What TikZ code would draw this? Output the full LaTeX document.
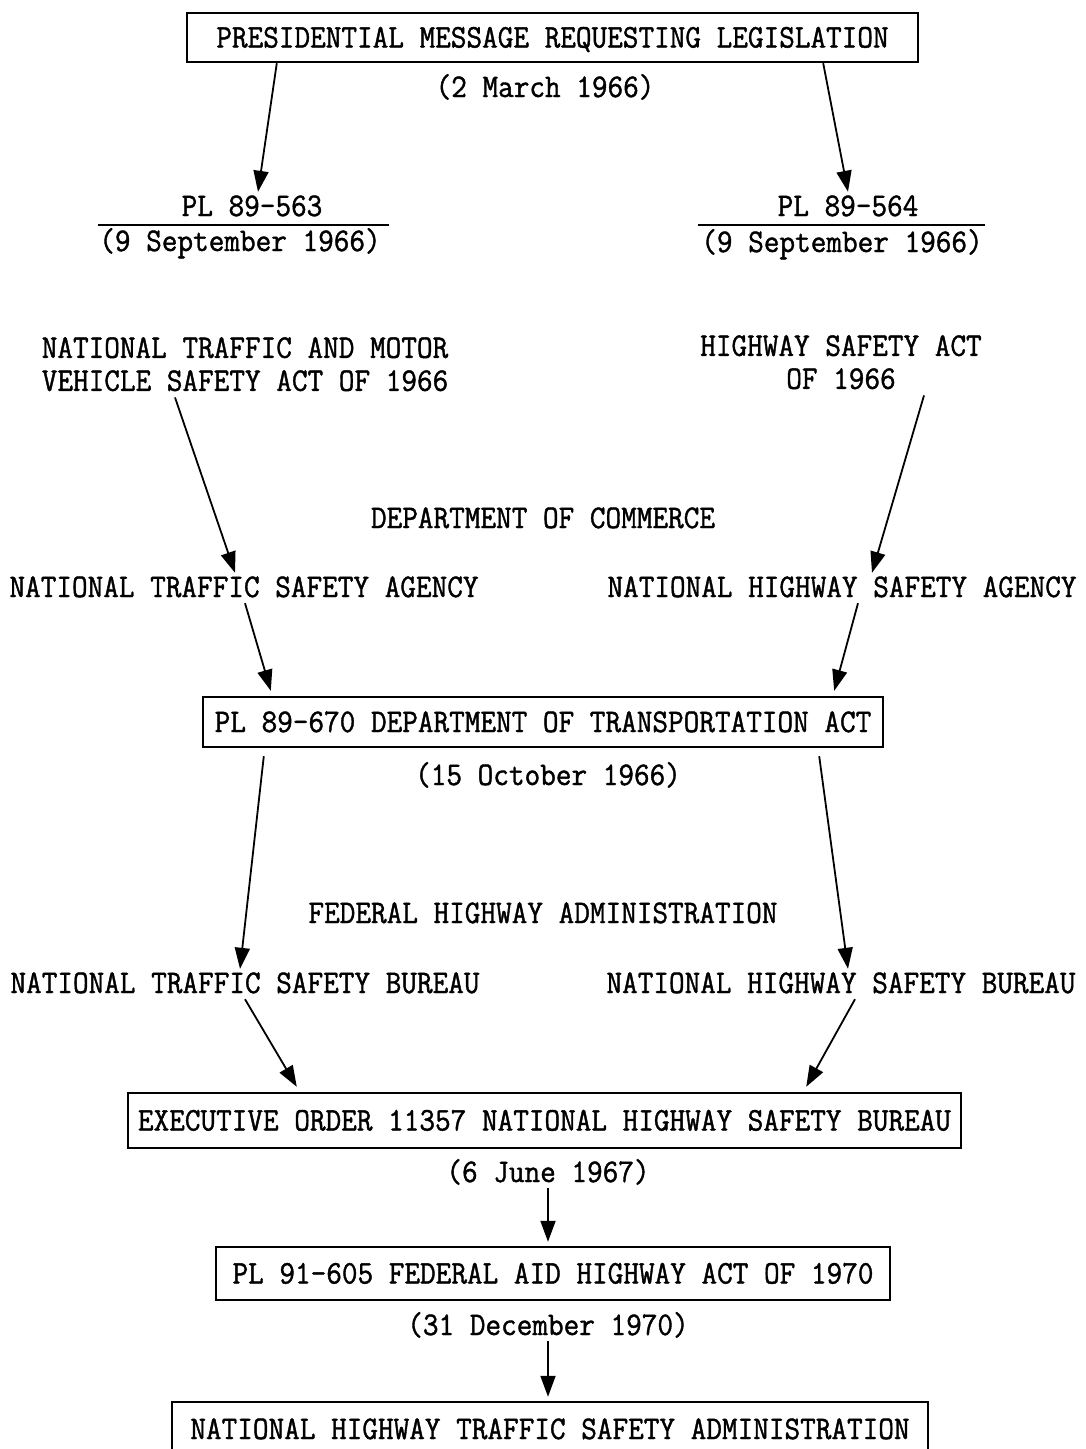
\documentclass[tikz,border=0pt]{standalone}
\usepackage{fontspec}
\newfontfamily\typefont{Latin Modern Mono}[FakeBold=1.2, FakeStretch=0.92]
\usetikzlibrary{arrows.meta}

\begin{document}
\begin{tikzpicture}[x=1pt, y=1pt,
  type node/.style={inner sep=0pt, font=\fontsize{33}{33}\typefont},
  line node/.style={type node, text height=20pt, text depth=0pt},
  box node/.style={line node, draw, line width=2.4pt},
  flow/.style={line width=1.8pt, -{Triangle[length=21pt,width=15pt]}}]
\clip (0,0) rectangle (1086,-1449);
\fill[white] (0,0) rectangle (1086,-1449);
\node[box node, minimum width=731pt, minimum height=49pt] (pres) at (552.5,-37.5) {PRESIDENTIAL MESSAGE REQUESTING LEGISLATION};
\node[line node] (march) at (545,-87) {(2 March 1966)};
\node[line node] (pl563) at (252,-206) {PL 89-563};
\node[line node] (d563) at (240,-241) {(9 September 1966)};
\node[line node] (pl564) at (848,-206) {PL 89-564};
\node[line node] (d564) at (842,-242) {(9 September 1966)};
\node[type node, align=center, anchor=north] (act1) at (245,-337) {NATIONAL TRAFFIC AND MOTOR\\VEHICLE SAFETY ACT OF 1966};
\node[type node, align=center, anchor=north] (hsa) at (841,-335) {HIGHWAY SAFETY ACT\\OF 1966};
\node[line node] (doc) at (543,-518) {DEPARTMENT OF COMMERCE};
\node[line node] (ntsa) at (244,-587) {NATIONAL TRAFFIC SAFETY AGENCY};
\node[line node] (nhsa) at (842,-587) {NATIONAL HIGHWAY SAFETY AGENCY};
\node[box node, minimum width=680pt, minimum height=50pt] (trans) at (543,-722) {PL 89-670 DEPARTMENT OF TRANSPORTATION ACT};
\node[line node] (oct) at (548,-775) {(15 October 1966)};
\node[line node] (fha) at (543,-913) {FEDERAL HIGHWAY ADMINISTRATION};
\node[line node] (ntsb) at (245,-983) {NATIONAL TRAFFIC SAFETY BUREAU};
\node[line node] (nhsb) at (841,-983) {NATIONAL HIGHWAY SAFETY BUREAU};
\node[box node, minimum width=833pt, minimum height=55pt] (exec) at (544.5,-1120.5) {EXECUTIVE ORDER 11357 NATIONAL HIGHWAY SAFETY BUREAU};
\node[line node] (june) at (548,-1172) {(6 June 1967)};
\node[box node, minimum width=674pt, minimum height=53pt] (fedaid) at (553,-1273.5) {PL 91-605 FEDERAL AID HIGHWAY ACT OF 1970};
\node[line node] (dec) at (548,-1325) {(31 December 1970)};
\node[box node, minimum width=756pt, minimum height=54pt] (nhtsa) at (550,-1429) {NATIONAL HIGHWAY TRAFFIC SAFETY ADMINISTRATION};
% rules under the law numbers
\draw[line width=1.8pt] ([xshift=-1pt,yshift=6pt]d563.north west) -- ([xshift=8pt,yshift=6pt]d563.north east);
\draw[line width=1.8pt] ([xshift=-3pt,yshift=7pt]d564.north west) -- ([xshift=2pt,yshift=7pt]d564.north east);
% arrows
\draw[flow] ([xshift=91pt]pres.south west) -- ([xshift=6pt,yshift=4pt]pl563.north);
\draw[flow] ([xshift=-96pt]pres.south east) -- ([yshift=4pt]pl564.north);
\draw[flow] ([xshift=-70pt,yshift=-6pt]act1.south) -- ([xshift=-9pt,yshift=4pt]ntsa.north);
\draw[flow] ([xshift=83pt,yshift=-6pt]hsa.south) -- ([xshift=30pt,yshift=4pt]nhsa.north);
\draw[flow] ([xshift=1pt,yshift=-6pt]ntsa.south) -- ([xshift=69pt,yshift=5pt]trans.north west);
\draw[flow] ([xshift=16pt,yshift=-6pt]nhsa.south) -- ([xshift=-50pt,yshift=5pt]trans.north east);
\draw[flow] ([xshift=62pt,yshift=-8pt]trans.south west) -- ([xshift=-5pt,yshift=4pt]ntsb.north);
\draw[flow] ([xshift=-65pt,yshift=-8pt]trans.south east) -- ([xshift=7pt,yshift=4pt]nhsb.north);
\draw[flow] ([yshift=-6pt]ntsb.south) -- ([xshift=170pt,yshift=5pt]exec.north west);
\draw[flow] ([xshift=14pt,yshift=-6pt]nhsb.south) -- ([xshift=-156pt,yshift=5pt]exec.north east);
\draw[flow] ([yshift=-6pt]june.south) -- ([xshift=-5pt,yshift=4pt]fedaid.north);
\draw[flow] ([yshift=-6pt]dec.south) -- ([xshift=-2pt,yshift=4pt]nhtsa.north);
\end{tikzpicture}
\end{document}
